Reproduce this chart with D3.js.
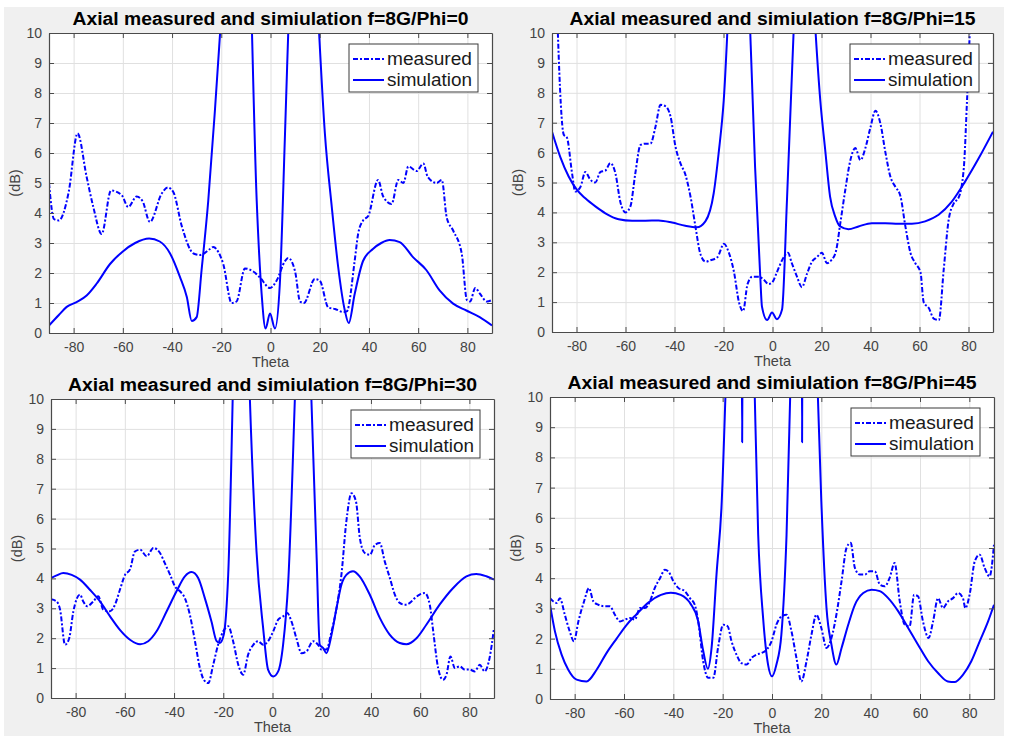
<!DOCTYPE html>
<html><head><meta charset="utf-8">
<script src="https://cdn.jsdelivr.net/npm/d3@7"></script>
<style>html,body{margin:0;padding:0;background:#fff;}svg{display:block;}</style>
</head><body>
<svg id="c" width="1010" height="736"></svg>
<script>
// ---------- data ----------
const titles = [
  "Axial measured and simiulation f=8G/Phi=0",
  "Axial measured and simiulation f=8G/Phi=15",
  "Axial measured and simiulation f=8G/Phi=30",
  "Axial measured and simiulation f=8G/Phi=45"
];
const legendLabels = ["measured", "simulation"];
const xTicks = [-80, -60, -40, -20, 0, 20, 40, 60, 80];
const xTickLabels = ["-80", "-60", "-40", "-20", "0", "20", "40", "60", "80"];
const yTicks = [0, 1, 2, 3, 4, 5, 6, 7, 8, 9, 10];
const yTickLabels = ["0", "1", "2", "3", "4", "5", "6", "7", "8", "9", "10"];
const xLabel = "Theta";
const yLabel = "(dB)";

// Phi = 0
const meas0Theta = [-90,-88,-86,-82,-78.4,-74.7,-72,-68.6,-64.8,-60.5,-57.8,-54.4,-52,-49,-44.2,-41.7,-39.5,-36,-31.3,-28.6,-24.6,-23.2,-21.2,-19.2,-15.8,-13.8,-10.4,-7,-4.3,-0.2,2.5,5.9,7.2,10,12,13.6,18,20,23.5,26.2,29.6,31,34.2,35.6,37.6,39.7,43.7,45.8,49.2,51.9,54,56,59.4,62.1,63.9,67.5,69.6,71.6,74.3,77.7,79.8,81.1,83.2,85.2,87.9,90];
const meas0Val   = [5.0,3.8,3.75,4.7,6.65,5.2,4.2,3.3,4.75,4.6,4.2,4.55,4.4,3.7,4.65,4.85,4.7,3.55,2.65,2.6,2.8,2.87,2.7,2.3,1.0,1.05,2.15,2.05,1.85,1.5,1.75,2.4,2.5,2.05,1.05,1.0,1.8,1.75,0.85,0.8,0.7,0.72,2.4,3.3,3.75,3.9,5.1,4.55,4.3,5.1,5.0,5.55,5.4,5.65,5.2,5.0,5.1,3.85,3.4,2.65,1.1,1.05,1.5,1.3,1.05,1.1];
const sim0Theta  = [-90,-86,-82.8,-78.8,-74.7,-70.6,-65.2,-60,-55,-49.3,-45,-40.8,-36.8,-34,-32,-30,-28,-25.3,-22.6,-20,-14,-9,-5.6,-3.6,-2,-0.2,1.8,3.8,5.9,8,14,19,22.1,24.9,27.5,30.2,31.8,34.2,37.6,41.6,45,48.4,52.5,57.9,63.3,68.7,74.2,79.6,85,90];
const sim0Val    = [0.25,0.6,0.87,1.03,1.25,1.65,2.3,2.72,3.0,3.15,3.05,2.65,1.87,1.2,0.4,0.53,2.1,4.4,7.4,10.6,18,13.9,4.4,1.3,0.15,0.65,0.15,1.65,6.65,12.0,20,11.2,6.65,4.2,2.2,0.75,0.33,1.3,2.4,2.8,3.0,3.1,3.03,2.53,2.1,1.42,0.98,0.75,0.53,0.25];

// Phi = 15
const meas1Theta = [-90,-85.2,-83.9,-81.8,-80.5,-78.4,-76.4,-74.4,-72.3,-70.3,-68.2,-66.2,-64.1,-62.1,-60,-58,-56,-53.9,-51.9,-49.8,-47.8,-45.7,-43.7,-41.6,-39.6,-37.6,-35.5,-33.4,-31.4,-29.4,-27.3,-25.3,-22.5,-19.8,-17.8,-15.7,-13.7,-12,-10.2,-8.2,-5.6,-3.6,-1.6,-0.2,1.8,3.9,6.3,7.9,10,12,14.1,16.1,18.1,20.2,22.2,24,25.9,27.7,29.7,31.8,33.8,35.9,37.9,40,42,44.1,46.1,48.1,50.2,52.2,54.2,56.3,58.3,60.4,61.7,63.8,65.8,67.9,69.9,71.9,74,76,78.1,79.4,82,90];
const meas1Val   = [17,6.6,6.5,5.3,4.7,4.85,5.35,5.1,5.0,5.35,5.4,5.65,5.3,4.35,4.0,4.2,5.3,6.25,6.3,6.3,6.85,7.6,7.55,7.2,6.2,5.65,5.25,4.5,3.5,2.6,2.35,2.4,2.5,2.95,2.65,2.0,1.0,0.7,1.6,1.85,1.85,1.75,1.6,1.65,2.0,2.4,2.65,2.3,1.85,1.5,1.95,2.35,2.5,2.65,2.3,2.4,2.7,3.65,4.75,5.75,6.15,5.75,6.15,6.85,7.4,6.95,6.0,5.2,4.85,4.55,3.55,2.65,2.3,2.0,1.0,0.8,0.45,0.4,2.1,3.75,4.3,4.5,5.5,7.75,13,20];
const sim1Theta  = [-90,-86.6,-83.2,-79.8,-76.4,-72.3,-68.2,-62.8,-57.3,-51.9,-46.5,-41,-35.6,-30.9,-27.4,-24,-22,-19.9,-17,-13,-10.5,-7.1,-5,-4.3,-2.2,-0.2,1.8,3.9,5.9,9,13,16.5,19.5,21.5,23.5,25.6,27.6,31,35.1,40.5,46,51.4,56.9,62.3,67.8,73.2,78.6,84.1,90];
const sim1Val    = [6.7,5.85,5.2,4.75,4.47,4.2,3.97,3.77,3.72,3.72,3.73,3.66,3.55,3.5,3.7,4.64,5.97,7.75,12.5,18,13.3,5.5,1.85,0.85,0.4,0.65,0.43,0.75,4.4,10.83,17,11.5,7.75,6.1,4.53,3.86,3.53,3.44,3.53,3.64,3.64,3.62,3.62,3.7,3.92,4.36,5.03,5.8,6.7];

// Phi = 30
const meas2Theta = [-90,-87.7,-86.3,-84.3,-82.6,-80.9,-78.2,-76.9,-75.3,-72.8,-70.8,-68.7,-66,-64,-62,-59.9,-57.9,-55.9,-53.8,-51.1,-48.4,-45.7,-43.7,-41.6,-39.6,-37.6,-35.6,-33.6,-31.5,-29.5,-27.9,-26.1,-24.1,-22.1,-20,-18,-16,-13.9,-11.9,-9.9,-7.8,-5.8,-3.8,-1.8,0.3,2.3,4.3,6,7.7,9.7,11.8,13.8,16.5,18.5,19.9,21.9,24,26,28,30,32.1,33.9,35.5,37.5,39.6,41.6,43.6,45.6,47.7,49.7,51.7,53.8,55.8,57.8,59.8,61.9,63.9,65.3,67.3,69.3,70.7,72.3,74.1,76.1,78.1,80.1,82.2,84.2,86.2,88.2,90];
const meas2Val   = [3.3,3.23,2.95,1.78,2.0,2.9,3.46,3.23,3.07,3.23,3.4,2.95,2.9,3.12,3.62,4.12,4.3,4.9,4.96,4.74,5.02,4.85,4.5,4.12,3.73,3.57,3.34,2.79,1.9,1.0,0.61,0.5,1.11,1.78,2.23,2.4,1.9,1.11,0.78,1.45,1.78,1.9,1.78,1.9,2.23,2.62,2.73,2.84,2.56,2.0,1.5,1.56,1.9,1.78,1.62,1.62,2.23,3.0,4.12,5.9,6.85,6.58,5.35,4.85,4.79,5.12,5.18,4.57,4.01,3.46,3.18,3.12,3.18,3.34,3.46,3.51,3.12,2.23,1.0,0.61,0.78,1.39,1.0,1.06,0.95,0.95,0.89,1.11,0.89,1.34,2.34];
const sim2Theta  = [-90,-87.7,-85,-81.6,-78.2,-74.2,-70.1,-66,-62,-57.9,-53.8,-50.5,-47.1,-43,-39,-35.6,-32.9,-30.2,-27.5,-24.8,-22.7,-21.4,-19.8,-18,-15,-12,-10,-6.5,-3.8,-1.8,0.3,2.3,4.3,6.4,9.5,12.5,15,17.9,19.2,20.6,21.9,24,26,28,30,32.7,35.4,39.5,43.6,47.6,51.7,54.4,58.5,62.5,67.9,73.4,78.8,82.8,86.9,90];
const sim2Val    = [4.01,4.1,4.18,4.12,3.96,3.62,3.23,2.73,2.28,1.95,1.8,1.9,2.23,2.9,3.57,4.07,4.21,4.01,3.34,2.56,1.9,1.84,2.12,4.12,14,20,12.3,4.9,2.34,0.95,0.72,0.89,1.78,3.9,11,18,12,4.79,1.78,1.67,1.5,2.12,3.0,3.79,4.12,4.24,4.07,3.46,2.68,2.12,1.84,1.8,2.0,2.45,3.12,3.68,4.07,4.15,4.07,3.96];

// Phi = 45
const meas3Theta = [-90,-88.6,-87.3,-86,-84,-82,-80.3,-78.5,-76.2,-74.2,-72.4,-70.4,-67.7,-65.7,-63.7,-61.6,-59.6,-57.6,-55.6,-53.5,-51.5,-49.5,-47.5,-45.4,-43.4,-41.8,-40,-38,-35.3,-33.3,-31.3,-29.9,-27.9,-25.9,-23.8,-21.8,-19.8,-18,-16.4,-14.4,-12.4,-10.3,-8.3,-6.3,-4.3,-2.2,-0.2,1.8,3.9,5.9,7.9,9.9,11.9,14,16,18,20,22.1,24.1,26.1,28.2,30.2,31.9,33.6,35.6,37.6,39.6,41.7,43.7,45.7,47.7,49.7,51.8,53.8,55.8,57.6,59.2,61.2,63.5,65.3,67.3,69.3,71.3,73.4,75.4,77.4,78.4,80.1,82.2,84.2,86.2,88.2,90];
const meas3Val   = [3.34,3.23,3.18,3.34,2.79,2.24,1.91,2.57,3.23,3.67,3.23,3.12,3.07,3.07,2.79,2.57,2.63,2.68,2.63,3.01,3.01,3.23,3.68,4.0,4.28,4.2,3.9,3.68,3.57,3.34,3.12,2.57,1.25,0.7,0.7,1.74,2.46,2.41,1.91,1.47,1.19,1.14,1.36,1.47,1.52,1.63,1.91,2.46,2.74,2.79,2.24,1.36,0.58,1.25,2.13,2.79,2.35,1.69,2.02,2.79,3.9,5.0,5.17,4.34,4.12,4.12,4.23,4.23,3.79,3.73,4.01,4.5,3.23,2.46,2.41,3.45,3.4,2.57,2.02,2.57,3.34,3.01,3.23,3.34,3.51,3.34,3.01,3.45,4.56,4.78,4.34,4.06,5.11];
const sim3Theta  = [-90,-88,-85.3,-82.6,-79.2,-75.2,-71.1,-67.1,-63,-59,-55,-50,-45,-41,-37,-33,-30,-27.9,-26,-24.5,-22.5,-20.5,-18,-15,-12.4,-12.1,-11.8,-9,-7.5,-5.6,-3.6,-1.6,0,1.8,3.8,5.9,8,10,12,12.2,12.4,15,18,20,22.1,24.1,26.1,28.2,30.9,33.6,37,40.4,43.7,47.1,51.2,55.2,59.2,63.3,67.3,71.3,74,77.4,80.8,84.2,87.6,90];
const sim3Val    = [3.12,2.24,1.47,0.97,0.64,0.58,0.97,1.52,2.0,2.45,2.8,3.2,3.45,3.52,3.45,3.15,2.6,1.6,1.0,1.69,4.12,6.32,12,16,14,8.5,14,16,11.8,5.44,2.68,1.14,0.75,1.14,2.13,5.44,12,16,14,8.5,14,16,11.5,6.54,3.01,1.8,1.14,1.69,2.46,3.12,3.51,3.62,3.57,3.34,2.9,2.35,1.8,1.25,0.86,0.58,0.56,0.8,1.25,1.91,2.57,3.12];

// ---------- layout ----------
const panels = [
  {x0: 49,  x1: 492, y0: 33,  y1: 333, ty: 25,  tl: 396, mT: meas0Theta, mV: meas0Val, sT: sim0Theta, sV: sim0Val},
  {x0: 552, x1: 993, y0: 33,  y1: 332, ty: 25,  tl: 406, mT: meas1Theta, mV: meas1Val, sT: sim1Theta, sV: sim1Val},
  {x0: 51,  x1: 494, y0: 399, y1: 698, ty: 391, tl: 409, mT: meas2Theta, mV: meas2Val, sT: sim2Theta, sV: sim2Val},
  {x0: 550, x1: 994, y0: 397, y1: 699, ty: 389, tl: 409, mT: meas3Theta, mV: meas3Val, sT: sim3Theta, sV: sim3Val}
];

const svg = d3.select("#c");
svg.append("rect").attr("x", 0).attr("y", 0).attr("width", 1010).attr("height", 736).attr("fill", "#ffffff");
svg.append("rect").attr("x", 4).attr("y", 7).attr("width", 1000).attr("height", 729).attr("fill", "#f0f0f0");

const FONT = "'Liberation Sans', Arial, Helvetica, sans-serif";
const BLUE = "#0000ff";
const AX = "#4a4a4a";
const DASH = "5,2,2,2";

panels.forEach((p, i) => {
  const x = d3.scaleLinear().domain([-90, 90]).range([p.x0, p.x1]);
  const y = d3.scaleLinear().domain([0, 10]).range([p.y1, p.y0]);
  const W = p.x1 - p.x0, H = p.y1 - p.y0;
  const g = svg.append("g");

  g.append("rect").attr("x", p.x0).attr("y", p.y0).attr("width", W).attr("height", H).attr("fill", "#fff");

  // grid
  g.append("g").attr("transform", `translate(0,${p.y1})`)
    .call(d3.axisBottom(x).tickValues(xTicks).tickSize(-H).tickFormat(""))
    .call(s => s.select(".domain").remove())
    .call(s => s.selectAll("line").attr("stroke", "#e0e0e0").attr("stroke-width", 1));
  g.append("g").attr("transform", `translate(${p.x0},0)`)
    .call(d3.axisLeft(y).tickValues(yTicks).tickSize(-W).tickFormat(""))
    .call(s => s.select(".domain").remove())
    .call(s => s.selectAll("line").attr("stroke", "#e0e0e0").attr("stroke-width", 1));

  // clip
  const cid = "clip" + i;
  svg.append("clipPath").attr("id", cid).append("rect")
    .attr("x", p.x0).attr("y", p.y0).attr("width", W).attr("height", H);

  const line = d3.line().x(d => x(d[0])).y(d => y(d[1])).curve(d3.curveMonotoneX);
  const mData = p.mT.map((t, k) => [t, p.mV[k]]);
  const sData = p.sT.map((t, k) => [t, p.sV[k]]);
  const lg = g.append("g").attr("clip-path", `url(#${cid})`);
  lg.append("path").attr("d", line(mData)).attr("fill", "none").attr("stroke", BLUE)
    .attr("stroke-width", 2).attr("stroke-dasharray", DASH).attr("stroke-linejoin", "round");
  lg.append("path").attr("d", line(sData)).attr("fill", "none").attr("stroke", BLUE)
    .attr("stroke-width", 2).attr("stroke-linejoin", "round");

  // axes with inward ticks (all four sides)
  const styleAxis = s => {
    s.select(".domain").attr("stroke", AX).attr("stroke-width", 1.2);
    s.selectAll(".tick line").attr("stroke", AX).attr("stroke-width", 1);
    s.selectAll(".tick text").attr("fill", "#444").style("font-family", FONT).style("font-size", "14px");
  };
  g.append("g").attr("transform", `translate(0,${p.y1})`)
    .call(d3.axisBottom(x).tickValues(xTicks).tickSizeInner(-5).tickSizeOuter(0).tickPadding(9)
      .tickFormat((d, k) => xTickLabels[k]))
    .call(styleAxis);
  g.append("g").attr("transform", `translate(0,${p.y0})`)
    .call(d3.axisTop(x).tickValues(xTicks).tickSizeInner(-5).tickSizeOuter(0).tickFormat(""))
    .call(styleAxis);
  g.append("g").attr("transform", `translate(${p.x0},0)`)
    .call(d3.axisLeft(y).tickValues(yTicks).tickSizeInner(-5).tickSizeOuter(0).tickPadding(7)
      .tickFormat((d, k) => yTickLabels[k]))
    .call(styleAxis);
  g.append("g").attr("transform", `translate(${p.x1},0)`)
    .call(d3.axisRight(y).tickValues(yTicks).tickSizeInner(-5).tickSizeOuter(0).tickFormat(""))
    .call(styleAxis);

  // labels
  g.append("text").attr("x", (p.x0 + p.x1) / 2).attr("y", p.y1 + 34).attr("text-anchor", "middle")
    .attr("fill", "#444").style("font-family", FONT).style("font-size", "14.5px").text(xLabel);
  g.append("text").attr("transform", `translate(${p.x0 - 29},${(p.y0 + p.y1) / 2}) rotate(-90)`)
    .attr("text-anchor", "middle").attr("fill", "#444").style("font-family", FONT).style("font-size", "14.5px").text(yLabel);
  g.append("text").attr("x", (p.x0 + p.x1) / 2).attr("y", p.ty).attr("text-anchor", "middle")
    .attr("fill", "#000").style("font-family", FONT).style("font-size", "17.5px").style("font-weight", "bold")
    .attr("textLength", p.tl).attr("lengthAdjust", "spacingAndGlyphs").text(titles[i]);

  // legend
  const bx = p.x1 - 14 - 129, by = p.y0 + 11;
  const leg = g.append("g");
  leg.append("rect").attr("x", bx).attr("y", by).attr("width", 129).attr("height", 48)
    .attr("fill", "#fff").attr("stroke", "#3a3a3a").attr("stroke-width", 1);
  [0, 1].forEach(k => {
    const ly = by + 15 + k * 21;
    leg.append("line").attr("x1", bx + 4).attr("x2", bx + 35).attr("y1", ly).attr("y2", ly)
      .attr("stroke", BLUE).attr("stroke-width", 2)
      .attr("stroke-dasharray", k === 0 ? DASH : null);
    leg.append("text").attr("x", bx + 38).attr("y", ly + 6)
      .attr("fill", "#1a1a1a").style("font-family", FONT).style("font-size", "17.5px")
      .attr("textLength", 85).attr("lengthAdjust", "spacingAndGlyphs").text(legendLabels[k]);
  });
});
</script>
</body></html>
